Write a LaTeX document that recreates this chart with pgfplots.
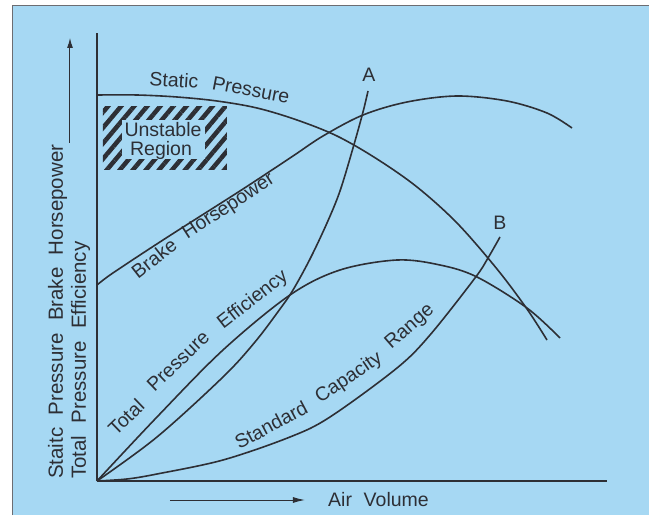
\documentclass[border=0pt]{standalone}
\usepackage{fontspec}
\setmainfont{Liberation Sans}
\usepackage{pgfplots}
\pgfplotsset{compat=1.18}
\usetikzlibrary{patterns.meta,arrows.meta}
\definecolor{bgblue}{RGB}{166,216,243}
\definecolor{ink}{RGB}{45,47,53}
\newcommand{\ws}{\hspace{0.6em}}
\pgfplotsset{curve/.style={ink, line width=1.6pt, smooth, tension=0.55, mark=none}}
\begin{document}
\begin{tikzpicture}
% page and panel (1pt = 1px; axis origin at (0,0))
\path[use as bounding box, fill=white] (-97pt,-34pt) rectangle (552pt,481pt);
\fill[bgblue] (-85pt,-34pt) rectangle (552pt,476pt);
\draw[ink!70, line width=0.8pt] (-85pt,-34pt) -- (-85pt,476pt) -- (552pt,476pt);
\begin{axis}[
  width=510pt, height=448pt, scale only axis,
  xmin=0, xmax=510, ymin=0, ymax=448,
  axis x line=bottom, axis y line=left,
  axis line style={ink, line width=1.1pt, -},
  xtick=\empty, ytick=\empty,
  clip=false,
  font=\fontsize{19.5}{23}\selectfont,
]
% Static pressure
\addplot[curve] coordinates {(0,386) (40,386) (80,384) (120,380) (160,373) (200,361) (240,345) (280,322) (320,294) (360,258) (400,212) (430,172) (450,141)};
% Brake horsepower
\addplot[curve] coordinates {(0,196) (13,206) (43,226) (80,250) (146,292) (196,325) (226,345) (266,366) (310,379) (360,385) (410,380) (450,368) (475,353)};
% Curve A
\addplot[curve] coordinates {(0,0) (60,44) (126,104) (158,139) (183,172) (196,191) (213,222) (230,258) (243,290) (256,333) (266,369) (271,390)};
% Total pressure efficiency
\addplot[curve] coordinates {(0,0) (60,64) (126,131) (193,186) (243,211) (300,221) (343,216) (380,204) (430,173) (463,143)};
% Curve B
\addplot[curve] coordinates {(0,0) (30,2) (60,7) (126,21) (193,44) (233,64) (300,113) (333,146) (378,203) (391,223) (403,244)};

% unstable region
\fill[pattern={Lines[angle=50,distance=10pt,line width=4.5pt]}, pattern color=ink] (axis cs:6,311) rectangle (axis cs:130,374);
\fill[bgblue] (axis cs:25,322) rectangle (axis cs:108,361);
\node[ink, inner sep=0pt] at (axis cs:66,351) {Unstable};
\node[ink, inner sep=0pt] at (axis cs:64,331) {Region};

% curve labels
\node[ink, rotate=-4] at (axis cs:77,401) {Static};
\node[ink, rotate=-11] at (axis cs:154,391) {Pressure};
\node[ink, rotate=38] at (axis cs:57,223) {Brake};
\node[ink, rotate=33] at (axis cs:132,274) {Horsepower};
\node[ink, rotate=44] at (axis cs:29,64) {Total};
\node[ink, rotate=44] at (axis cs:81,120) {Pressure};
\node[ink, rotate=38] at (axis cs:156,181) {Efficiency};
\node[ink, rotate=28] at (axis cs:174,56) {Standard};
\node[ink, rotate=34] at (axis cs:252,103) {Capacity};
\node[ink, rotate=41] at (axis cs:313,154) {Range};
\node[ink] at (axis cs:272,406) {A};
\node[ink] at (axis cs:403,258) {B};

% axis titles
\node[ink, rotate=90, anchor=base west, inner sep=0pt, font=\fontsize{20.5}{24}\selectfont] at (axis cs:-34,2) {Staitc\ws Pressure\ws Brake\ws Horsepower};
\node[ink, rotate=90, anchor=base west, inner sep=0pt, font=\fontsize{20.5}{24}\selectfont] at (axis cs:-11,2) {Total\ws Pressure\ws Efficiency};
\draw[ink, line width=1pt, -{Latex[length=10pt,width=6pt]}] (axis cs:-27,338) -- (axis cs:-27,443);
\draw[ink, line width=1pt, -{Latex[length=12pt,width=6pt]}] (axis cs:73,-19) -- (axis cs:208,-19);
\node[ink, anchor=base west, inner sep=0pt] at (axis cs:231,-25) {Air\ws Volume};
\end{axis}
\end{tikzpicture}
\end{document}
